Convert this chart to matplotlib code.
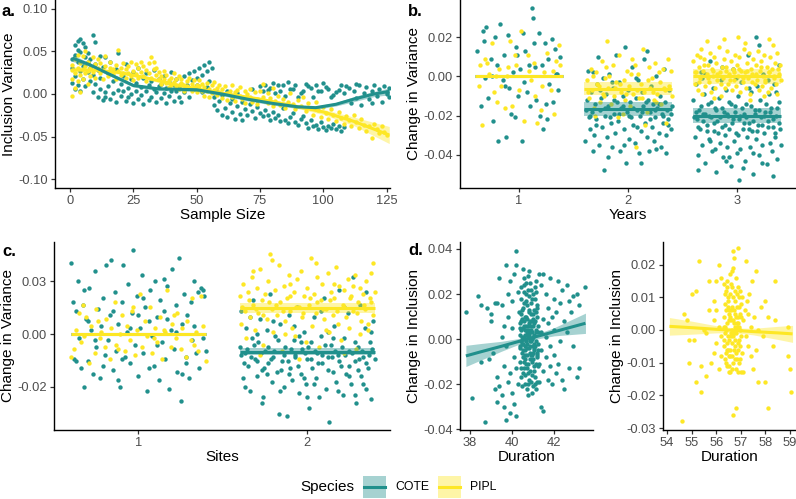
import numpy as np
import matplotlib
matplotlib.use("Agg")
import matplotlib.pyplot as plt
from matplotlib.patches import Rectangle
from matplotlib.lines import Line2D

plt.rcParams['font.family'] = ['Liberation Sans', 'DejaVu Sans']

COTE = '#21908C'
PIPL = '#FDE725'
species = ['COTE', 'PIPL']

## Panel a: inclusion variance vs sample size (x, y) ##
a_cote = [(1,.041),(1,.013),(1,.030),(2,.057),(2,.021),(2,.046),(2,.006),(3,.062),(3,.038),(3,.011),(3,.052),
          (4,.064),(4,.027),(4,.049),(4,.004),(5,.060),(5,.033),(5,.018),(6,.055),(6,.043),(6,.009),(7,.048),
          (7,.026),(7,.037),(8,.041),(8,.015),(8,.031),(9,.069),(9,.022),(9,.002),(10,.061),(10,.035),(10,.012),
          (11,.028),(11,-.003),(12,.044),(12,.006),(12,.019),(13,-.007),(13,.032),(14,.043),(14,.002),(14,-.004),
          (15,.024),(15,.009),(16,.037),(16,-.006),(17,.015),(17,.001),(18,.029),(18,-.009),(19,.005),(19,.048),
          (20,.012),(20,-.002),(21,.021),(21,.003),(22,-.008),(22,.035),(23,.007),(23,-.004),(24,.017),(24,.000),
          (25,.026),(25,-.010),(26,.004),(26,.013),(27,-.006),(27,.031),(28,.008),(28,-.001),(29,.019),(29,-.012),
          (30,.003),(30,.024),(31,-.007),(31,.011),(32,.015),(32,-.003),(33,.006),(33,.028),(34,-.009),(34,.002),
          (35,.017),(35,.009),(36,-.005),(36,.012),(37,.001),(37,.021),(38,.007),(38,-.011),(39,.014),(39,-.002),
          (40,.004),(40,.026),(41,-.008),(41,.010),(42,.003),(42,.018),(43,-.004),(43,.008),(44,.012),(44,-.009),
          (45,.002),(45,.021),(46,.011),(47,.024),(47,-.003),(48,.016),(49,.027),(49,.006),(50,.019),(50,.011),
          (51,.031),(52,.022),(52,.002),(53,.034),(54,.027),(54,.008),(55,.038),(55,.015),(56,.030),
          (57,-.004),(57,-.013),(58,.002),(58,-.019),(59,-.008),(60,-.024),(60,-.001),(61,-.016),(62,-.027),
          (62,.004),(63,-.011),(64,-.021),(64,-.006),(65,-.029),(66,-.014),(66,.001),(67,-.023),(68,-.009),
          (68,-.030),(69,-.018),(70,-.003),(70,-.025),(71,-.012),(72,-.020),(72,.006),(73,-.028),(74,-.007),
          (74,-.015),(75,.009),(75,-.022),
          (76,.004),(77,.011),(78,.005),(79,.007),(80,.013),(81,.001),(82,.010),(83,.003),(84,.010),(85,-.002),
          (86,.014),(87,.006),(88,.006),(89,.011),(90,-.004),(91,.001),(92,.003),(93,.012),(94,.009),(95,.007),
          (96,-.003),(97,.010),(98,.004),(99,.004),(100,.013),(101,.008),(102,.006),(103,-.003),(104,-.001),
          (105,.002),(106,.005),(107,.011),(108,.001),(109,.009),(110,.007),
          (76,-.026),(77,-.019),(78,-.024),(79,-.030),(80,-.021),(81,-.028),(82,-.025),(83,-.032),(84,-.016),
          (85,-.031),(86,-.034),(87,-.027),(88,-.022),(89,-.033),(90,-.036),(91,-.029),(92,-.026),(93,-.034),
          (94,-.040),(95,-.031),(96,-.038),(97,-.036),(98,-.041),(99,-.033),(100,-.039),(101,-.042),(102,-.037),
          (103,-.040),(104,-.035),(105,-.041),(106,-.038),(107,-.043),(108,-.039),
          (111,-.010),(112,.004),(113,-.005),(114,.010),(115,-.013),(116,.001),(117,.008),(118,-.006),(119,.003),
          (120,.011),(121,-.002),(122,.006),(123,-.009),(124,.009),(125,.002),(126,-.004),(126,.007),(125,.000),
          (113,.012),(119,-.011)]
a_pipl = [(1,.028),(1,-.002),(1,.018),(1,.034),(2,.007),(2,.025),(2,.041),(3,.031),(3,.015),(3,.046),(4,.022),
          (4,.036),(4,.002),(5,.029),(5,.044),(5,.017),(6,.033),(6,.024),(6,.050),(7,.027),(7,.038),(7,.012),
          (8,.031),(8,.021),(9,.043),(9,.026),(10,.035),(10,.019),
          (11,.030),(11,.041),(12,.024),(12,.036),(13,.028),(13,.018),(14,.033),(14,.045),(15,.026),(15,.021),
          (16,.031),(16,.038),(17,.023),(17,.029),(18,.034),(18,.017),(19,.027),(19,.052),(20,.031),(20,.022),
          (21,.025),(21,.036),(22,.029),(22,.019),(23,.033),(23,.024),(24,.038),(24,.021),(25,.027),(25,.016),
          (26,.035),(26,.023),(27,.030),(27,.019),(28,.037),(28,.026),(29,.021),(29,.033),(30,.028),(30,.015),
          (31,.036),(31,.024),(32,.043),(32,.019),(33,.029),(33,.038),(34,.022),(34,.031),(35,.017),(35,.026),
          (36,.021),(36,.012),(37,.018),(37,.027),(38,.013),(38,.022),(39,.016),(39,.008),(40,.019),(40,.011),
          (41,.024),(41,.014),(42,.009),(42,.017),(43,.021),(43,.006),(44,.013),(44,.018),(45,.010),(45,.004),
          (46,.015),(46,.009),(47,.019),(47,.007),(48,.012),(48,.003),(49,.016),(49,.008),(50,.011),(50,.002),
          (51,.009),(51,.016),(52,.004),(52,.012),(53,.008),(53,-.002),(54,.013),(54,.003),(55,.006),(55,-.004),
          (56,.010),(56,.001),(57,.005),(57,.014),(58,-.001),(58,.007),(59,.011),(59,.002),(60,-.005),(60,.006),
          (61,.009),(62,.001),(62,-.007),(63,.004),(64,.010),(64,-.003),(65,.002),(65,-.008),
          (66,.005),(67,-.002),(67,.008),(68,-.006),(69,.003),(69,-.010),(70,.000),(71,-.004),(71,.006),(72,-.009),
          (73,.002),(74,-.006),(74,-.012),(75,.004),(76,-.003),(76,.012),(77,-.008),(78,.001),(78,-.011),
          (79,-.005),(80,.007),(80,-.014),
          (81,-.008),(82,-.002),(83,-.013),(84,-.006),(85,-.016),(86,-.009),(87,.001),(88,-.012),(89,-.018),
          (90,-.007),(91,-.014),(92,-.004),(93,-.020),(94,-.011),(95,-.016),(96,-.024),(97,-.009),(98,-.019),
          (99,-.027),(100,-.015),
          (101,-.022),(102,-.029),(103,-.018),(104,-.025),(105,-.032),(106,-.021),(107,-.028),(108,-.035),
          (109,-.026),(110,-.031),(111,-.037),(112,-.024),(113,-.033),(114,-.040),(115,-.029),(116,-.036),
          (117,-.043),(118,-.038),(119,-.051),(120,-.035),(121,-.041),(122,-.046),(123,-.037),(124,-.044),
          (125,-.048)]
# smoothed fits (x, fit, half width of band)
a_cote_fit_x = [1, 8, 15, 25, 35, 50, 60, 70, 80, 90, 97, 105, 112, 120, 126]
a_cote_fit_y = [.042, .034, .024, .010, .006, .005, .000, -.006, -.011, -.015, -.016, -.012, -.006, .000, .003]
a_cote_fit_h = [.004, .002, .002, .002, .002, .002, .002, .002, .002, .002, .002, .002, .003, .003, .004]
a_pipl_fit_x = [1, 10, 20, 30, 40, 50, 62, 75, 87, 100, 112, 126]
a_pipl_fit_y = [.028, .028, .025, .019, .012, .006, .000, -.006, -.013, -.021, -.032, -.048]
a_pipl_fit_h = [.004, .002, .002, .002, .002, .002, .002, .002, .002, .003, .005, .010]

## Panel b: change in variance by years (jittered x, y) ##
b_cote = [(0.62,.013),(0.65,-.015),(0.67,.023),(0.70,.025),(0.68,.018),(0.72,-.011),(0.74,.009),(0.76,-.023),
          (0.78,.020),(0.80,.006),(0.81,-.033),(0.83,.027),(0.85,-.002),(0.86,.011),(0.88,-.031),(0.90,.021),
          (0.91,-.006),(0.93,-.019),(0.95,.002),(0.96,-.021),(0.98,.011),(0.99,-.010),(1.01,.004),(1.03,-.033),
          (1.04,.022),(1.06,.013),(1.07,-.008),(1.09,.006),(1.10,-.015),(1.12,.035),(1.13,.030),(1.15,.005),
          (1.16,-.012),(1.18,.022),(1.19,-.020),(1.21,.006),(1.22,-.027),(1.24,.017),(1.25,-.014),(1.27,.009),
          (1.28,-.004),(1.30,.019),(1.31,-.013),(1.33,.014),(1.35,.001),(1.36,-.007),(1.38,.010),(0.75,.000),
          (0.87,-.005),(0.97,.015),(1.05,-.003),(1.14,.017),(1.26,-.022),(1.34,.001),(0.69,-.001),
          (1.61,-.033),(1.62,-.012),(1.63,.003),(1.64,-.021),(1.65,-.027),(1.66,-.008),(1.67,-.018),(1.68,.002),
          (1.69,-.030),(1.70,-.014),(1.71,-.022),(1.72,-.004),(1.73,-.035),(1.74,-.017),(1.75,-.011),(1.76,-.026),
          (1.77,-.001),(1.78,-.048),(1.79,-.020),(1.80,-.009),(1.81,-.031),(1.82,-.015),(1.83,.001),(1.84,-.024),
          (1.85,-.036),(1.86,-.006),(1.87,-.019),(1.88,-.029),(1.89,.011),(1.90,-.013),(1.91,-.023),(1.92,-.003),
          (1.93,-.038),(1.94,-.016),(1.95,-.010),(1.96,-.027),(1.97,.015),(1.98,-.044),(1.99,-.018),(2.00,-.007),
          (2.01,-.032),(2.02,-.013),(2.03,-.021),(2.04,.005),(2.05,-.025),(2.06,-.034),(2.07,-.011),(2.08,-.017),
          (2.09,-.002),(2.10,-.039),(2.11,-.020),(2.12,-.028),(2.13,-.008),(2.14,-.015),(2.15,.009),(2.16,-.024),
          (2.17,-.031),(2.18,-.012),(2.19,-.038),(2.20,-.018),(2.21,-.005),(2.22,-.026),(2.23,-.014),(2.24,-.033),
          (2.25,-.021),(2.26,.000),(2.27,-.016),(2.28,-.029),(2.29,-.010),(2.30,-.036),(2.31,-.019),(2.32,-.024),
          (2.33,.004),(2.34,-.013),(2.35,-.030),(2.36,-.017),(2.37,-.022),(2.38,-.007),(2.39,-.027),(2.40,-.015),
          (1.615,-.017),(1.655,-.020),(1.705,-.025),(1.745,-.007),(1.785,-.016),(1.835,-.021),(1.875,-.012),
          (1.915,-.019),(1.955,-.015),(2.005,-.020),(2.045,-.016),(2.085,-.026),(2.125,-.018),(2.165,-.013),
          (2.205,-.022),(2.245,-.017),(2.285,-.014),(2.325,-.020),(2.365,-.025),(2.395,-.019),(1.675,-.038),
          (1.815,-.041),(1.965,-.035),(2.115,-.044),(2.255,-.037),(2.345,-.039),(1.725,.010),(2.175,.013),
          (2.075,-.001),(1.855,-.003),
          (2.60,-.012),(2.61,-.031),(2.62,-.004),(2.63,-.022),(2.64,-.040),(2.65,-.017),(2.66,-.027),(2.67,.002),
          (2.68,-.035),(2.69,-.019),(2.70,-.009),(2.71,-.044),(2.72,-.025),(2.73,-.014),(2.74,-.032),(2.75,.008),
          (2.76,-.021),(2.77,-.038),(2.78,-.006),(2.79,-.028),(2.80,-.016),(2.81,-.049),(2.82,-.023),(2.83,-.011),
          (2.84,-.034),(2.85,-.002),(2.86,-.026),(2.87,-.041),(2.88,-.018),(2.89,-.030),(2.90,-.007),(2.91,-.036),
          (2.92,-.020),(2.93,-.013),(2.94,-.046),(2.95,-.024),(2.96,.004),(2.97,-.033),(2.98,-.015),(2.99,-.029),
          (3.00,-.039),(3.01,-.010),(3.02,-.022),(3.03,-.037),(3.04,-.003),(3.05,-.027),(3.06,-.019),(3.07,-.043),
          (3.08,-.014),(3.09,-.031),(3.10,.011),(3.11,-.024),(3.12,-.036),(3.13,-.008),(3.14,-.028),(3.15,-.050),
          (3.16,-.017),(3.17,-.032),(3.18,-.005),(3.19,-.025),(3.20,-.040),(3.21,-.012),(3.22,-.021),(3.23,-.035),
          (3.24,.001),(3.25,-.029),(3.26,-.018),(3.27,-.045),(3.28,-.023),(3.29,-.009),(3.30,-.034),(3.31,-.016),
          (3.32,-.038),(3.33,-.026),(3.34,-.004),(3.35,-.031),(3.36,-.020),(3.37,-.042),(3.38,-.013),(3.39,-.027),
          (3.40,-.035),(2.605,-.021),(2.625,-.018),(2.645,-.026),(2.665,-.015),(2.685,-.023),(2.705,-.019),
          (2.725,-.028),(2.745,-.020),(2.765,-.013),(2.785,-.024),(2.805,-.017),(2.825,-.029),(2.845,-.021),
          (2.865,-.016),(2.885,-.025),(2.905,-.019),(2.925,-.027),(2.945,-.014),(2.965,-.022),(2.985,-.018),
          (3.005,-.030),(3.025,-.020),(3.045,-.016),(3.065,-.024),(3.085,-.021),(3.105,-.027),(3.125,-.015),
          (3.145,-.023),(3.165,-.019),(3.185,-.028),(3.205,-.017),(3.225,-.025),(3.245,-.020),(3.265,-.014),
          (3.285,-.026),(3.305,-.018),(3.325,-.022),(3.345,-.029),(3.365,-.016),(3.385,-.024),
          (2.64,-.048),(2.71,.001),(2.80,-.037),(2.86,.005),(2.93,-.041),(2.99,-.001),(3.05,-.047),(3.11,-.006),
          (3.17,.020),(3.23,-.044),(3.28,-.002),(3.33,-.051),(3.38,.006),(3.02,-.053),(2.75,-.033),(2.90,-.043),
          (3.15,-.039),(3.36,-.008),(2.68,-.001),(3.20,.016)]
b_pipl = [(0.63,-.005),(0.64,.006),(0.66,-.025),(0.69,.009),(0.71,.007),(0.73,.001),(0.75,.017),(0.77,-.008),
          (0.79,.000),(0.82,.004),(0.84,-.005),(0.87,-.016),(0.89,.000),(0.92,.018),(0.94,-.015),(0.97,.006),
          (1.00,-.007),(1.02,.023),(1.05,-.023),(1.08,.011),(1.11,-.002),(1.14,.007),(1.17,-.024),(1.20,-.017),
          (1.23,.002),(1.26,.012),(1.29,-.007),(1.32,-.019),(1.34,.008),(1.37,.016),(1.38,.006),(0.80,-.013),
          (0.96,.011),(1.09,.003),(1.21,-.005),(0.90,.005),(1.15,-.010),(1.31,.003),
          (1.62,-.002),(1.64,-.011),(1.66,.004),(1.67,-.007),(1.69,-.016),(1.71,.002),(1.72,-.004),(1.74,-.013),
          (1.76,.008),(1.77,-.009),(1.79,-.001),(1.81,.018),(1.82,-.006),(1.84,-.014),(1.86,.006),(1.87,-.010),
          (1.89,-.003),(1.91,-.021),(1.92,.011),(1.94,-.008),(1.96,-.002),(1.97,-.012),(1.99,.003),(2.01,-.005),
          (2.02,-.015),(2.04,.009),(2.05,-.009),(2.07,-.036),(2.09,.001),(2.10,-.011),(2.12,-.004),(2.14,.014),
          (2.15,-.008),(2.17,-.018),(2.19,.005),(2.20,-.006),(2.22,-.001),(2.24,-.012),(2.25,.007),(2.27,-.009),
          (2.29,-.003),(2.30,-.014),(2.32,.004),(2.34,-.007),(2.35,-.024),(2.37,.009),(2.38,-.005),(2.40,-.010),
          (1.63,-.008),(1.68,.000),(1.73,-.005),(1.78,-.010),(1.83,.000),(1.88,-.006),(1.93,-.004),(1.98,-.009),
          (2.03,.001),(2.08,-.007),(2.13,-.011),(2.18,-.002),(2.23,-.008),(2.28,.002),(2.33,-.006),(2.39,.003),
          (1.70,-.020),(1.95,-.019),(2.16,-.025),(1.80,.005),(2.06,.006),(2.26,-.013),
          (2.60,.008),(2.61,-.004),(2.62,.002),(2.63,.011),(2.64,-.007),(2.65,.005),(2.66,-.001),(2.67,.014),
          (2.68,-.009),(2.69,.003),(2.70,.009),(2.71,-.005),(2.72,.001),(2.73,.006),(2.74,-.003),(2.75,.012),
          (2.76,-.008),(2.77,.004),(2.78,.000),(2.79,.010),(2.80,-.006),(2.81,.007),(2.82,-.002),(2.83,.015),
          (2.84,.002),(2.85,-.010),(2.86,.005),(2.87,-.001),(2.88,.009),(2.89,-.006),(2.90,.003),(2.91,.013),
          (2.92,-.004),(2.93,.001),(2.94,.008),(2.95,-.007),(2.96,.004),(2.97,-.002),(2.98,.011),(2.99,-.005),
          (3.00,.006),(3.01,.000),(3.02,.010),(3.03,-.008),(3.04,.003),(3.05,-.003),(3.06,.014),(3.07,.002),
          (3.08,-.006),(3.09,.007),(3.10,-.001),(3.11,.012),(3.12,-.009),(3.13,.004),(3.14,.001),(3.15,.009),
          (3.16,-.004),(3.17,.006),(3.18,-.002),(3.19,.013),(3.20,-.007),(3.21,.003),(3.22,.008),(3.23,-.005),
          (3.24,.000),(3.25,.011),(3.26,-.003),(3.27,.005),(3.28,-.008),(3.29,.002),(3.30,.010),(3.31,-.006),
          (3.32,.004),(3.33,.016),(3.34,-.001),(3.35,.007),(3.36,-.004),(3.37,.012),(3.38,.001),(3.39,.006),
          (3.40,-.002),(2.615,.002),(2.655,-.003),(2.695,.006),(2.735,-.001),(2.775,.003),(2.815,.001),
          (2.855,-.004),(2.895,.005),(2.935,-.002),(2.975,.002),(3.015,.004),(3.055,-.001),(3.095,.003),
          (3.135,-.003),(3.175,.001),(3.215,.005),(3.255,-.002),(3.295,.002),(3.335,.000),(3.375,.004),
          (2.72,.018),(2.88,.019),(3.07,.017),(3.29,.019),(2.79,-.011),(3.12,-.012),(3.25,-.010),(2.66,.010),
          (3.01,.020),(3.37,-.009)]
years = [1, 2, 3]
b_cote_mean = [0.0, -0.0166, -0.0200]
b_cote_half = [0.0, 0.0034, 0.0040]
b_pipl_mean = [0.0, -0.0063, 0.0001]
b_pipl_half = [0.0, 0.0034, 0.0039]

## Panel c: change in variance by sites (jittered x, y) ##
c_cote = [(0.60,.034),(0.61,.015),(0.62,-.012),(0.63,.011),(0.64,.025),(0.65,-.002),(0.66,-.016),(0.67,.014),
          (0.68,-.025),(0.69,.007),(0.70,-.013),(0.71,.022),(0.72,.002),(0.73,-.019),(0.74,.030),(0.75,-.006),
          (0.76,.012),(0.77,-.021),(0.78,.004),(0.79,.017),(0.80,-.010),(0.81,.033),(0.82,-.003),(0.83,.009),
          (0.84,.035),(0.85,-.017),(0.86,.020),(0.87,-.008),(0.88,.005),(0.89,-.025),(0.90,.015),(0.91,.033),
          (0.92,-.011),(0.93,.001),(0.94,.024),(0.95,-.014),(0.96,.010),(0.97,.040),(0.98,-.005),(0.99,.018),
          (1.00,-.020),(1.01,.003),(1.02,.028),(1.03,-.009),(1.04,.013),(1.05,-.027),(1.06,.006),(1.07,.021),
          (1.08,-.001),(1.09,-.015),(1.10,.025),(1.11,.008),(1.12,-.022),(1.13,.016),(1.14,-.004),(1.15,.011),
          (1.16,-.012),(1.17,.023),(1.18,-.026),(1.19,.002),(1.20,.031),(1.21,-.007),(1.22,.014),(1.23,-.018),
          (1.24,.036),(1.25,-.032),(1.26,.005),(1.27,.019),(1.28,-.011),(1.29,.009),(1.30,-.021),(1.31,.015),
          (1.32,-.003),(1.33,.025),(1.34,-.009),(1.35,.020),(1.36,-.016),(1.37,.022),(1.38,-.002),(1.39,.018),
          (1.40,-.008),(0.63,-.013),(0.68,.021),(0.74,-.003),(0.79,-.015),(0.85,.011),(0.90,-.012),(0.95,.003),
          (1.00,.009),(1.06,-.016),(1.11,-.005),(1.17,.007),(1.22,.001),(1.28,-.014),(1.33,.004),(1.38,.021),
          (0.70,.006),(1.03,.017),(1.26,-.019),(0.88,-.022),(1.15,.026),
          (1.60,-.006),(1.61,.011),(1.62,-.021),(1.63,-.009),(1.64,.003),(1.65,-.015),(1.66,-.027),(1.67,-.002),
          (1.68,.016),(1.69,-.012),(1.70,-.020),(1.71,-.004),(1.72,.007),(1.73,-.017),(1.74,-.030),(1.75,-.008),
          (1.76,.002),(1.77,-.014),(1.78,.019),(1.79,-.023),(1.80,-.011),(1.81,-.001),(1.82,-.018),(1.83,-.038),
          (1.84,.005),(1.85,-.013),(1.86,-.025),(1.87,-.006),(1.88,-.039),(1.89,.009),(1.90,-.016),(1.91,-.022),
          (1.92,-.003),(1.93,-.010),(1.94,.013),(1.95,-.028),(1.96,-.019),(1.97,-.007),(1.98,.001),(1.99,-.024),
          (2.00,-.012),(2.01,-.035),(2.02,-.004),(2.03,-.016),(2.04,.008),(2.05,-.021),(2.06,-.009),(2.07,-.030),
          (2.08,-.001),(2.09,-.014),(2.10,.017),(2.11,-.026),(2.12,-.011),(2.13,-.042),(2.14,-.005),(2.15,-.018),
          (2.16,.004),(2.17,-.023),(2.18,-.010),(2.19,.021),(2.20,-.015),(2.21,-.029),(2.22,-.002),(2.23,-.019),
          (2.24,.010),(2.25,-.008),(2.26,-.024),(2.27,.027),(2.28,-.013),(2.29,-.033),(2.30,-.006),(2.31,.014),
          (2.32,-.020),(2.33,-.011),(2.34,.003),(2.35,-.026),(2.36,-.016),(2.37,-.004),(2.38,-.031),(2.39,.006),
          (2.40,-.012),(1.605,-.010),(1.625,-.014),(1.645,-.007),(1.665,-.011),(1.685,-.005),(1.705,-.013),
          (1.725,-.009),(1.745,-.016),(1.765,-.006),(1.785,-.012),(1.805,-.008),(1.825,-.003),(1.845,-.017),
          (1.865,-.010),(1.885,-.013),(1.905,-.007),(1.925,-.011),(1.945,-.015),(1.965,-.004),(1.985,-.009),
          (2.005,-.006),(2.025,-.012),(2.045,-.008),(2.065,-.014),(2.085,-.010),(2.105,-.005),(2.125,-.017),
          (2.145,-.011),(2.165,-.008),(2.185,-.013),(2.205,-.006),(2.225,-.010),(2.245,-.015),(2.265,-.009),
          (2.285,-.004),(2.305,-.012),(2.325,-.008),(2.345,-.014),(2.365,-.010),(2.385,-.007),
          (1.63,-.025),(1.70,.000),(1.76,-.019),(1.84,-.027),(1.92,.004),(1.98,-.021),(2.04,-.024),(2.12,.001),
          (2.18,-.027),(2.25,-.020),(2.33,-.024),(2.38,.001),(1.66,.008),(1.80,.006),(2.08,.011),(2.22,.013),
          (2.35,.020),(1.73,-.033),(2.00,-.030),(2.28,-.029),(1.89,-.019),(2.15,-.002),(2.30,-.017),(1.95,-.001)]
c_pipl = [(0.60,-.011),(0.62,-.007),(0.63,.002),(0.65,.010),(0.66,-.004),(0.68,-.001),(0.69,.008),(0.71,-.014),
          (0.72,.004),(0.74,-.009),(0.75,.012),(0.77,-.002),(0.78,.001),(0.80,-.006),(0.81,.007),(0.83,-.012),
          (0.84,.003),(0.86,.015),(0.87,-.005),(0.89,.000),(0.90,.009),(0.92,-.008),(0.93,.004),(0.95,-.003),
          (0.96,.011),(0.98,-.010),(0.99,.002),(1.01,.019),(1.02,-.006),(1.04,.006),(1.05,-.001),(1.07,.013),
          (1.08,-.009),(1.10,.003),(1.11,-.004),(1.13,.008),(1.14,-.012),(1.16,.001),(1.17,.021),(1.19,-.006),
          (1.20,.005),(1.22,-.002),(1.23,.010),(1.25,-.007),(1.26,.003),(1.28,-.011),(1.29,.006),(1.31,-.003),
          (1.32,.017),(1.34,.001),(1.35,-.008),(1.37,.018),(1.38,.004),(1.40,-.013),(0.76,.006),(0.88,-.007),
          (0.97,.013),(1.09,-.002),(1.21,.009),(1.33,-.005),(0.67,.014),(1.15,.002),
          (1.60,.018),(1.61,.005),(1.62,.024),(1.63,.011),(1.64,-.002),(1.65,.020),(1.66,.008),(1.67,.027),
          (1.68,.014),(1.69,.002),(1.70,.022),(1.71,.010),(1.72,.031),(1.73,.016),(1.74,-.005),(1.75,.019),
          (1.76,.007),(1.77,.025),(1.78,.038),(1.79,.012),(1.80,.001),(1.81,.021),(1.82,.009),(1.83,.033),
          (1.84,.015),(1.85,-.008),(1.86,.023),(1.87,.006),(1.88,.017),(1.89,.028),(1.90,.011),(1.91,.003),
          (1.92,.020),(1.93,-.001),(1.94,.026),(1.95,.013),(1.96,.030),(1.97,.008),(1.98,.018),(1.99,-.004),
          (2.00,.022),(2.01,.014),(2.02,.036),(2.03,.004),(2.04,.019),(2.05,.010),(2.06,.027),(2.07,-.006),
          (2.08,.016),(2.09,.024),(2.10,.007),(2.11,.012),(2.12,.029),(2.13,.001),(2.14,.020),(2.15,.009),
          (2.16,.017),(2.17,.032),(2.18,.005),(2.19,.023),(2.20,-.003),(2.21,.014),(2.22,.021),(2.23,.008),
          (2.24,.026),(2.25,.003),(2.26,.018),(2.27,.011),(2.28,.028),(2.29,-.007),(2.30,.015),(2.31,.022),
          (2.32,.006),(2.33,.019),(2.34,.012),(2.35,.025),(2.36,.002),(2.37,.017),(2.38,.029),(2.39,.009),
          (2.40,.020),(1.615,.013),(1.655,.016),(1.695,.012),(1.735,.009),(1.775,.015),(1.815,.014),(1.855,.011),
          (1.895,.018),(1.935,.013),(1.975,.010),(2.015,.017),(2.055,.015),(2.095,.012),(2.135,.016),(2.175,.011),
          (2.215,.013),(2.255,.017),(2.295,.010),(2.335,.014),(2.375,.015),(1.68,.030),(1.79,.035),(1.90,.024),
          (2.05,.034),(2.16,.024),(2.27,.023),(2.39,.034),(1.72,-.010),(1.95,-.012),(2.22,-.009),(1.87,.000),
          (2.11,.002),(2.31,.000),(2.36,.005)]
sites = [1, 2]
c_cote_mean = [0.0, -0.0084]
c_cote_half = [0.0, 0.0018]
c_pipl_mean = [0.0, 0.0124]
c_pipl_half = [0.0, 0.0022]

## Panel d: change in inclusion vs duration (x, y) ##
d_cote = [(37.8,.012),(38.1,-.026),(38.4,.019),(38.5,-.010),(38.5,.015),(38.7,-.037),(38.8,.014),(38.9,-.009),
          (39.0,.008),(39.0,.011),(39.1,-.006),(39.2,.016),(39.2,-.022),(39.3,.016),(39.3,-.017),(39.3,-.028),
          (39.4,.027),(39.4,-.021),(39.5,.015),(39.5,.001),(39.5,-.025),(39.6,-.030),(39.6,.006),(39.6,-.012),
          (39.7,.033),(39.7,-.036),(39.7,-.003),(39.8,.020),(39.8,-.019),(39.8,.010),(39.9,-.015),(39.9,.026),
          (39.9,-.033),(40.0,.005),(40.0,-.024),(40.0,.017),(40.1,-.008),(40.1,.029),(40.1,-.029),(40.2,.033),
          (40.2,-.013),(40.2,.039),(40.2,-.034),(40.3,.021),(40.3,-.020),
          (40.35,.012),(40.40,-.004),(40.45,.023),(40.50,-.015),(40.55,.006),(40.60,-.009),(40.65,.017),
          (40.70,-.002),(40.75,.028),(40.80,-.018),(40.85,.003),(40.90,.011),(40.95,-.007),(41.00,.020),
          (41.05,-.012),(41.10,.008),(41.15,-.022),(41.20,.015),(41.25,-.005),
          (40.38,-.010),(40.43,.008),(40.48,-.021),(40.53,.014),(40.58,.001),(40.63,-.016),(40.68,.025),
          (40.73,.004),(40.78,-.011),(40.83,.019),(40.88,-.003),(40.93,-.024),(40.98,.009),(41.03,.002),
          (41.08,-.017),(41.13,.026),(41.18,-.008),(41.23,.006),
          (40.36,.002),(40.41,.018),(40.46,-.006),(40.51,.031),(40.56,-.013),(40.61,.010),(40.66,-.001),
          (40.71,.015),(40.76,-.020),(40.81,.007),(40.86,-.014),(40.91,.022),(40.96,.000),(41.01,-.009),
          (41.06,.013),(41.11,-.003),(41.16,.004),(41.21,-.019),
          (40.39,.005),(40.44,-.013),(40.49,.009),(40.54,-.002),(40.59,.021),(40.64,-.007),(40.69,.003),
          (40.74,-.025),(40.79,.012),(40.84,-.006),(40.89,.016),(40.94,-.010),(40.99,.006),(41.04,-.014),
          (41.09,.018),(41.14,-.001),(41.19,.010),(41.24,-.012),
          (40.37,-.003),(40.42,.011),(40.47,.001),(40.52,-.008),(40.57,.016),(40.62,.004),(40.67,-.011),
          (40.72,.009),(40.77,.001),(40.82,-.004),(40.87,.008),(40.92,-.001),(40.97,-.016),(41.02,.011),
          (41.07,-.005),(41.12,.003),(41.17,.014),(41.22,-.002),
          (40.40,.007),(40.45,-.017),(40.50,.000),(40.55,.024),(40.60,-.005),(40.65,.006),(40.70,-.013),
          (40.75,.002),(40.80,.013),(40.85,-.009),(40.90,.004),(40.95,.018),(41.00,-.003),(41.05,.007),
          (41.10,-.020),(41.15,.012),(41.20,-.007),(41.25,.003),
          (40.42,-.001),(40.52,.005),(40.62,-.003),(40.72,-.007),(40.82,.002),(40.92,.006),(41.02,-.006),
          (41.12,-.011),(40.47,.013),(40.57,-.010),(40.67,.010),(40.77,-.015),(40.87,.000),(40.97,.008),
          (41.07,-.002),(41.17,-.006),(40.58,.027),(40.78,.022),(40.98,-.021),(41.08,.023),
          (40.44,.004),(40.54,-.005),(40.64,.002),(40.74,.006),(40.84,-.001),(40.94,.003),(41.04,-.004),
          (40.49,-.002),(40.59,.008),(40.69,-.004),(40.79,.004),(40.89,-.007),(40.99,.001),(40.66,.020),
          (40.86,.025),(40.72,-.022),(40.90,-.019),(41.14,.021),(40.62,-.020),(40.80,.030),
          (41.3,.029),(41.3,-.011),(41.3,-.019),(41.4,.003),(41.4,.024),(41.4,-.030),(41.4,-.005),(41.5,.029),
          (41.5,-.014),(41.5,.009),(41.5,-.032),(41.6,.020),(41.6,-.008),(41.6,.001),(41.7,.014),(41.7,-.018),
          (41.7,.007),(41.8,-.003),(41.8,.027),(41.8,-.012),(41.9,.010),(41.9,-.020),(42.0,.018),(42.0,-.007),
          (42.0,.004),(42.1,-.015),(42.1,.012),(42.2,.026),(42.2,-.011),(42.3,.016),(42.3,-.001),(42.4,.022),
          (42.4,-.018),(42.5,.008),(42.5,-.022),(42.6,.024),(42.6,.003),(42.7,.017),(42.7,-.013),(42.8,.012),
          (42.9,.019),(42.9,-.003),(43.1,.020),(43.1,-.017),(43.2,-.013),(43.2,.015),(43.5,.023)]
d_pipl = [(54.6,-.028),(54.7,.005),(54.8,.003),(54.9,-.010),(54.9,-.003),(55.0,.011),(55.1,-.003),(55.2,.012),
          (55.2,-.016),(55.3,.021),(55.4,-.011),(55.4,-.019),(55.5,.000),(55.6,-.001),(55.6,-.014),(55.7,.006),
          (55.7,.015),(55.8,-.010),(55.9,.003),(55.9,-.007),(55.9,.009),(56.0,.015),(56.0,.006),(56.0,-.004),
          (56.1,.020),(56.1,-.012),(56.1,.001),(56.2,.016),(56.2,-.008),(56.2,-.002),
          (56.30,.014),(56.33,-.003),(56.36,.008),(56.39,-.010),(56.42,.002),(56.45,.015),(56.48,-.006),
          (56.51,.005),(56.54,-.013),(56.57,.011),(56.60,-.001),(56.63,.018),(56.66,-.008),(56.69,.003),
          (56.72,.022),(56.75,-.005),(56.78,.009),(56.81,-.012),(56.84,.001),(56.87,.013),(56.90,-.004),
          (56.93,.007),(56.96,-.009),(56.99,.004),
          (56.31,-.005),(56.34,.011),(56.37,.001),(56.40,-.007),(56.43,.013),(56.46,-.002),(56.49,.009),
          (56.52,-.011),(56.55,.004),(56.58,-.006),(56.61,.014),(56.64,.000),(56.67,.024),(56.70,-.010),
          (56.73,.006),(56.76,-.003),(56.79,.016),(56.82,-.007),(56.85,.002),(56.88,-.013),(56.91,.010),
          (56.94,.001),(56.97,-.005),(57.00,.008),
          (56.32,.004),(56.35,-.009),(56.38,.012),(56.41,.000),(56.44,-.004),(56.47,.007),(56.50,-.008),
          (56.53,.003),(56.56,.017),(56.59,-.002),(56.62,.006),(56.65,-.012),(56.68,.010),(56.71,.002),
          (56.74,-.006),(56.77,.005),(56.80,-.001),(56.83,.011),(56.86,-.009),(56.89,.004),(56.92,-.003),
          (56.95,.012),(56.98,.000),
          (56.30,.001),(56.36,-.001),(56.42,-.006),(56.48,.010),(56.54,.006),(56.60,.003),(56.66,-.004),
          (56.72,-.001),(56.78,-.009),(56.84,.007),(56.90,.002),(56.96,.005),(56.39,.006),(56.45,-.011),
          (56.51,-.003),(56.57,-.008),(56.63,.007),(56.69,-.002),(56.75,.012),(56.81,.004),(56.87,-.006),
          (56.93,-.010),(56.99,-.002),(56.70,.019),(56.64,.013),(56.76,.001),
          (57.05,.010),(57.05,-.007),(57.1,.003),(57.1,-.013),(57.15,.006),(57.2,-.002),(57.2,.021),(57.25,.009),
          (57.3,-.005),(57.3,.005),(57.35,.011),(57.4,-.008),(57.4,.001),(57.45,.015),(57.5,-.012),(57.55,.004),
          (57.6,.018),(57.6,-.006),(57.7,.000),(57.7,-.016),(57.8,.007),(57.9,-.002),(58.0,.009),(58.0,-.016),
          (58.1,.004),(58.1,-.024),(58.3,-.005),(58.4,.015),(58.4,.003),(58.9,.001),(58.9,-.008),(59.0,-.012),
          (59.05,-.019),(56.7,-.026),(56.8,-.024),(56.9,.025),(57.0,-.013),(56.55,-.013)]
d_cote_fit_x = [37.8, 38.5, 39.5, 40.5, 41.0, 42.0, 43.5]
d_cote_fit_y = [-.0075, -.0057, -.0032, -.0006, .0007, .0032, .0070]
d_cote_fit_h = [.0047, .0037, .0022, .0011, .0010, .0018, .0045]
d_pipl_fit_x = [54.1, 55.0, 56.0, 56.7, 57.5, 58.5, 59.1]
d_pipl_fit_y = [.0011, .0007, .0002, -.0001, -.0005, -.0009, -.0012]
d_pipl_fit_h = [.0027, .0020, .0011, .0007, .0010, .0020, .0026]

## Plotting ##
W, H = 796, 499
fig = plt.figure(figsize=(W / 100, H / 100), dpi=100)


def panel(l, t, r, b):
    # axes placed by pixel edges
    return fig.add_axes([l / W, 1 - b / H, (r - l) / W, (b - t) / H])


def style(ax, xlim, ylim, xt, xtl, yt, ytl, xlabel, ylabel):
    ax.set_xlim(xlim)
    ax.set_ylim(ylim)
    ax.set_xticks(xt, xtl)
    ax.set_yticks(yt, ytl)
    for s in ['top', 'right']:
        ax.spines[s].set_visible(False)
    for s in ['left', 'bottom']:
        ax.spines[s].set_linewidth(1.0)
    ax.tick_params(length=3, width=0.9, color='#333333', labelsize=9.3,
                   labelcolor='#4D4D4D', pad=2)
    ax.set_xlabel(xlabel, fontsize=11, labelpad=1)
    ax.set_ylabel(ylabel, fontsize=11, labelpad=2)


def dots(ax, pts, color):
    x, y = np.array(pts).T
    ax.scatter(x, y, s=10, color=color, linewidths=0, zorder=2)


def fit(ax, x, y, h, color):
    x, y, h = np.asarray(x), np.asarray(y), np.asarray(h)
    ax.fill_between(x, y - h, y + h, color=color, alpha=0.4, lw=0, zorder=3)
    ax.plot(x, y, color=color, lw=2.2, zorder=4, solid_capstyle='butt')


# a.
ax = panel(55, 0, 390, 188)
dots(ax, a_cote, COTE)
dots(ax, a_pipl, PIPL)
fit(ax, a_pipl_fit_x, a_pipl_fit_y, a_pipl_fit_h, PIPL)
fit(ax, a_cote_fit_x, a_cote_fit_y, a_cote_fit_h, COTE)
style(ax, (-5.9, 126.3), (-0.11, 0.11), [0, 25, 50, 75, 100, 125],
      ['0', '25', '50', '75', '100', '125'],
      [0.10, 0.05, 0.0, -0.05, -0.10], ['0.10', '0.05', '0.00', '-0.05', '-0.10'],
      'Sample Size', 'Inclusion Variance')

# b.
ax = panel(460, 0, 796, 188)
dots(ax, b_cote, COTE)
dots(ax, b_pipl, PIPL)
for g, m, h in zip(years, b_cote_mean, b_cote_half):
    fit(ax, [g - 0.4, g + 0.4], [m, m], [h, h], COTE)
for g, m, h in zip(years, b_pipl_mean, b_pipl_half):
    fit(ax, [g - 0.4, g + 0.4], [m, m], [h, h], PIPL)
style(ax, (0.46, 3.54), (-0.057, 0.039), years, ['1', '2', '3'],
      [0.02, 0.0, -0.02, -0.04], ['0.02', '0.00', '-0.02', '-0.04'],
      'Years', 'Change in Variance')

# c.
ax = panel(54, 242, 390, 430)
dots(ax, c_cote, COTE)
dots(ax, c_pipl, PIPL)
for g, m, h in zip(sites, c_cote_mean, c_cote_half):
    fit(ax, [g - 0.4, g + 0.4], [m, m], [h, h], COTE)
for g, m, h in zip(sites, c_pipl_mean, c_pipl_half):
    fit(ax, [g - 0.4, g + 0.4], [m, m], [h, h], PIPL)
style(ax, (0.5, 2.49), (-0.0457, 0.0438), sites, ['1', '2'],
      [0.025, 0.0, -0.025], ['0.03', '0.00', '-0.02'],
      'Sites', 'Change in Variance')

# d. (COTE)
ax = panel(460, 242, 593, 430)
dots(ax, d_cote, COTE)
fit(ax, d_cote_fit_x, d_cote_fit_y, d_cote_fit_h, COTE)
style(ax, (37.52, 43.86), (-0.0404, 0.0431), [38, 40, 42], ['38', '40', '42'],
      [0.04, 0.02, 0.0, -0.02, -0.04], ['0.04', '0.02', '0.00', '-0.02', '-0.04'],
      'Duration', 'Change in Inclusion')

# d. (PIPL)
ax = panel(663, 242, 796, 430)
dots(ax, d_pipl, PIPL)
fit(ax, d_pipl_fit_x, d_pipl_fit_y, d_pipl_fit_h, PIPL)
style(ax, (53.84, 59.24), (-0.0306, 0.0269), [54, 55, 56, 57, 58, 59],
      ['54', '55', '56', '57', '58', '59'],
      [0.02, 0.01, 0.0, -0.01, -0.02, -0.03], ['0.02', '0.01', '0.00', '-0.01', '-0.02', '-0.03'],
      'Duration', 'Change in Inclusion')

# panel letters
for lab, px, py in [('a.', 2, 12), ('b.', 408, 12), ('c.', 2, 252), ('d.', 408, 251)]:
    fig.text(px / W, 1 - py / H, lab, fontsize=12, fontweight='bold', va='center', ha='left')

# legend at the bottom
ly = 1 - 487 / H
fig.text(300 / W, ly, 'Species', fontsize=11, va='center', ha='left')
for name, color, kx in zip(species, [COTE, PIPL], [363, 438]):
    fig.add_artist(Rectangle((kx / W, 1 - 498 / H), 23 / W, 22 / H, transform=fig.transFigure,
                             facecolor=color, alpha=0.4, lw=0))
    fig.add_artist(Line2D([(kx + 1) / W, (kx + 22) / W], [ly, ly], transform=fig.transFigure,
                          color=color, lw=2.2))
    fig.text((kx + 32) / W, ly, name, fontsize=8.8, va='center', ha='left')

fig.savefig('out.png', dpi=100)
